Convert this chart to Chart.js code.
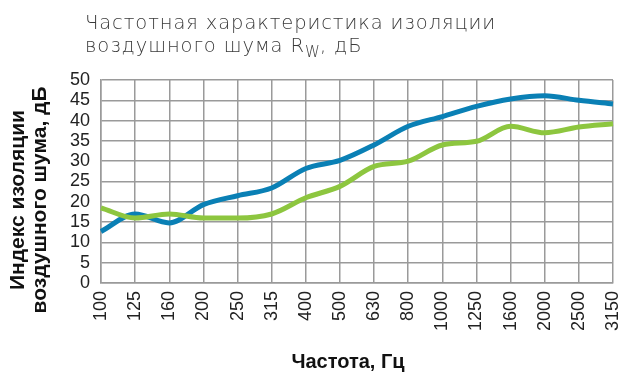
<!DOCTYPE html>
<html lang="ru">
<head>
<meta charset="utf-8">
<script src="https://cdn.jsdelivr.net/npm/chart.js@4"></script>
<style>
    html, body { margin: 0; padding: 0; background: #fff; }
    #wrap { position: relative; width: 625px; height: 372px; }
    #heading {
        position: absolute; left: 85px; top: 11px;
        font-family: "DejaVu Sans", sans-serif; font-weight: 200;
        font-size: 19.5px; line-height: 23px; color: #3a3a3a;
        letter-spacing: 0.9px;
    }
    #heading sub { font-size: 15px; vertical-align: -5px; line-height: 0; letter-spacing: 0; }
</style>
</head>
<body>
<div id="wrap">
    <div id="heading">Частотная характеристика изоляции<br>воздушного шума R<sub>W</sub>, дБ</div>
    <canvas id="rwChart" width="625" height="372"></canvas>
</div>
<script>
// Frequencies, Hz
const freqLabels = ['100', '125', '160', '200', '250', '315', '400', '500', '630', '800', '1000', '1250', '1600', '2000', '2500', '3150'];
// Airborne sound insulation, dB
const blueValues = [12.7, 17, 14.8, 19.3, 21.5, 23.4, 28.2, 30.2, 34, 38.6, 41, 43.5, 45.3, 46.1, 45, 44.1];
const greenValues = [18.5, 16, 17, 16, 16, 17, 21, 23.8, 28.7, 30, 34, 34.9, 38.6, 37, 38.4, 39.2];
// Y axis range
const yMin = 0, yMax = 50, yStep = 5;
// Axis titles
const yTitleLines = ['Индекс изоляции', 'воздушного шума, дБ'];
const xTitleText = 'Частота, Гц';

const gridColor = '#9a9a9a';
const fontFamily = '"Liberation Sans", Arial, sans-serif';

// Axis titles are drawn by hand so they can sit off the plot centre
const axisTitles = {
    id: 'axisTitles',
    afterDraw(chart) {
        const c = chart.ctx;
        c.save();
        c.fillStyle = '#111';
        c.textAlign = 'center';
        c.textBaseline = 'middle';
        c.font = 'bold 21px ' + fontFamily;
        const xs = [18, 40];
        yTitleLines.forEach((line, i) => {
            c.save();
            c.translate(xs[i], 200);
            c.rotate(-Math.PI / 2);
            c.fillText(line, 0, 0);
            c.restore();
        });
        c.font = 'bold 20px ' + fontFamily;
        c.textBaseline = 'alphabetic';
        c.fillText(xTitleText, 348, 368);
        c.restore();
    }
};

const ctx = document.getElementById('rwChart').getContext('2d');
const rwChart = new Chart(ctx, {
    type: 'line',
    data: {
        labels: freqLabels,
        datasets: [
            {
                data: greenValues,
                borderColor: '#8dc63f',
                borderWidth: 5,
                pointRadius: 0,
                tension: 0.4,
                cubicInterpolationMode: 'monotone'
            },
            {
                data: blueValues,
                borderColor: '#0a80b5',
                borderWidth: 5,
                pointRadius: 0,
                tension: 0.4,
                cubicInterpolationMode: 'monotone'
            }
        ]
    },
    options: {
        responsive: false,
        animation: false,
        layout: { padding: { top: 80, right: 12, left: 0, bottom: 0 } },
        plugins: { legend: { display: false }, tooltip: { enabled: false } },
        scales: {
            x: {
                offset: false,
                grid: { color: gridColor, lineWidth: 1.5, drawTicks: false, offset: false },
                border: { color: gridColor, width: 1.5 },
                ticks: {
                    color: '#222',
                    font: { family: fontFamily, size: 18 },
                    minRotation: 90, maxRotation: 90,
                    padding: 8,
                    autoSkip: false
                },
                afterFit: (scale) => {
                    scale.height = 89;
                    scale.paddingLeft = 0;
                    scale.paddingRight = 0;
                }
            },
            y: {
                min: yMin, max: yMax,
                grid: { color: gridColor, lineWidth: 1.5, drawTicks: false },
                border: { color: gridColor, width: 1.5 },
                ticks: {
                    stepSize: yStep,
                    autoSkip: false,
                    color: '#222',
                    font: { family: fontFamily, size: 18, lineHeight: 1 },
                    padding: 11
                },
                afterFit: (scale) => { scale.width = 101; }
            }
        }
    },
    plugins: [axisTitles]
});
</script>
</body>
</html>
